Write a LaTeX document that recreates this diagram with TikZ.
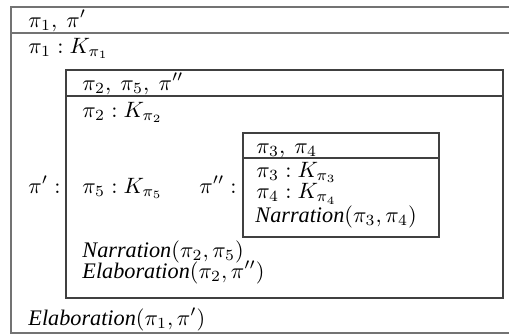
\documentclass[tikz,border=0pt]{standalone}
\usepackage{fontspec}
\setmainfont{Liberation Serif}
\usetikzlibrary{positioning}
\newcommand{\drsrel}[1]{\textit{#1}}
\tikzset{
  drsouter/.style={draw=black!55,line width=0.8pt},
  drsinner/.style={draw=black!75,line width=0.5pt},
  drstext/.style={anchor=base west,inner sep=0pt,font=\normalsize},
}
\begin{document}
\begin{tikzpicture}[x=0.45pt,y=-0.45pt]
\useasboundingbox (0,0) rectangle (509,335);
% outer box pi_1
\draw[drsouter] (509,7) -- (11,7) -- (11,333) -- (509,333);
\draw[drsouter] (11,33) -- (509,33);
% box of pi'
\draw[drsinner] (66,70) rectangle (503,298);
\draw[drsinner] (66,96) -- (503,96);
% box of pi''
\draw[drsinner] (243,133) rectangle (439,237);
\draw[drsinner] (243,158) -- (439,158);
% outer texts
\node[drstext] (top1) at (28,27) {$\pi_1,\ \pi'$};
\node[drstext] (k1) at (28,53) {$\pi_1 : K_{\pi_1}$};
\node[drstext] (lblp) at (28,193) {$\pi' :$};
\node[drstext] (elab1) at (28,325) {\drsrel{Elaboration}$(\pi_1,\pi')$};
% texts of pi'
\node[drstext] (top2) at (82,90) {$\pi_2,\ \pi_5,\ \pi''$};
\node[drstext] (k2) at (82,117) {$\pi_2 : K_{\pi_2}$};
\node[drstext] (k5) at (82,193) {$\pi_5 : K_{\pi_5}$};
\node[drstext] (lblpp) at (199,193) {$\pi'' :$};
\node[drstext] (narr2) at (82,257) {\drsrel{Narration}$(\pi_2,\pi_5)$};
\node[drstext] (elab2) at (82,278) {\drsrel{Elaboration}$(\pi_2,\pi'')$};
% texts of pi''
\node[drstext] (top3) at (256,153) {$\pi_3,\ \pi_4$};
\node[drstext] (k3) at (256,177) {$\pi_3 : K_{\pi_3}$};
\node[drstext] (k4) at (256,198.5) {$\pi_4 : K_{\pi_4}$};
\node[drstext] (narr3) at (255,222) {\drsrel{Narration}$(\pi_3,\pi_4)$};
\end{tikzpicture}
\end{document}
